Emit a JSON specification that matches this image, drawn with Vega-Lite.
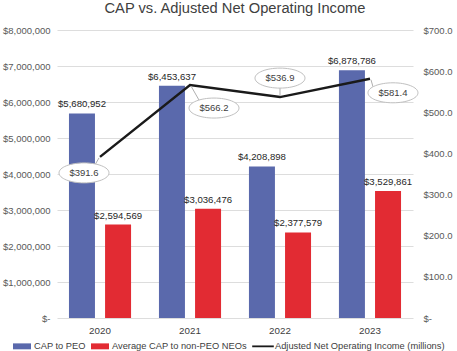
{
  "$schema": "https://vega.github.io/schema/vega-lite/v6.json",
  "width": 356,
  "height": 288,
  "autosize": {"type": "none"},
  "padding": {"left": 57, "top": 30, "right": 44, "bottom": 33},
  "background": "white",
  "title": {"text": "CAP vs. Adjusted Net Operating Income", "fontSize": 14.7, "font": "Liberation Sans", "fontWeight": "normal", "color": "#404040", "offset": 9, "anchor": "middle"},
  "config": {"font": "Liberation Sans", "view": {"stroke": null}},
  "datasets": {
    "bars": [
      {"year": "2020", "series": "CAP to PEO", "value": 5680952},
      {"year": "2020", "series": "Average CAP to non-PEO NEOs", "value": 2594569},
      {"year": "2021", "series": "CAP to PEO", "value": 6453637},
      {"year": "2021", "series": "Average CAP to non-PEO NEOs", "value": 3036476},
      {"year": "2022", "series": "CAP to PEO", "value": 4208898},
      {"year": "2022", "series": "Average CAP to non-PEO NEOs", "value": 2377579},
      {"year": "2023", "series": "CAP to PEO", "value": 6878786},
      {"year": "2023", "series": "Average CAP to non-PEO NEOs", "value": 3529861}
    ],
    "income": [
      {"year": "2020", "income": 391.6},
      {"year": "2021", "income": 566.2},
      {"year": "2022", "income": 536.9},
      {"year": "2023", "income": 581.4}
    ]
  },
  "layer": [
    {
      "data": {"name": "bars"},
      "encoding": {
        "x": {"field": "year", "type": "nominal", "title": null,
              "scale": {"paddingInner": 0.31, "paddingOuter": 0.133},
              "axis": {"labelAngle": 0, "labelFontSize": 9.8, "labelColor": "#404040", "domain": false, "ticks": false, "labelPadding": 7}},
        "y": {"field": "value", "type": "quantitative", "title": null,
              "scale": {"domain": [0, 8000000]},
              "axis": {"orient": "left", "values": [0,1000000,2000000,3000000,4000000,5000000,6000000,7000000,8000000],
                       "labelExpr": "datum.value === 0 ? '$-' : format(datum.value, '$,')",
                       "labelFontSize": 9.5, "labelColor": "#595959", "domain": false, "ticks": false, "labelPadding": 7,
                       "grid": true, "gridColor": "#DDDDDD", "gridWidth": 1}},
        "xOffset": {"field": "series", "type": "nominal", "sort": ["CAP to PEO", "Average CAP to non-PEO NEOs"],
                    "scale": {"domain": ["CAP to PEO", "Average CAP to non-PEO NEOs"], "paddingInner": 0.28}}
      },
      "layer": [
        {
          "mark": {"type": "bar"},
          "encoding": {
            "color": {"field": "series", "type": "nominal",
                      "scale": {"domain": ["CAP to PEO", "Average CAP to non-PEO NEOs", "Adjusted Net Operating Income (millions)"],
                                "range": ["#5A69AC", "#E22B33", "#1A1A1A"]},
                      "legend": {"title": null, "orient": "none", "legendX": -44, "legendY": 307, "direction": "horizontal",
                                 "symbolType": "M-1,-0.33H1V0.33H-1Z", "symbolSize": 324, "symbolStrokeWidth": 0,
                                 "symbolOpacity": 1, "labelFontSize": 9.3, "labelColor": "#404040", "labelLimit": 300,
                                 "columnPadding": 5, "labelOffset": 3,
                                 "encode": {"symbols": {"update": {"shape": {"signal": "datum.value === 'Adjusted Net Operating Income (millions)' ? 'M-1.2,-0.1H1.2V0.1H-1.2Z' : 'M-1,-0.33H1V0.33H-1Z'"}}}}}}
          }
        },
        {
          "mark": {"type": "text", "baseline": "bottom", "dy": -4, "fontSize": 9.6, "color": "#262626"},
          "encoding": {"text": {"field": "value", "type": "quantitative", "format": "$,"}}
        }
      ]
    },
    {
      "data": {"name": "income"},
      "encoding": {
        "x": {"field": "year", "type": "nominal", "title": null,
              "scale": {"paddingInner": 0.31, "paddingOuter": 0.133},
              "axis": {"labelAngle": 0, "labelFontSize": 9.8, "labelColor": "#404040", "domain": false, "ticks": false, "labelPadding": 7}},
        "y": {"field": "income", "type": "quantitative", "title": null,
              "scale": {"domain": [0, 700]},
              "axis": {"orient": "right", "values": [0,100,200,300,400,500,600,700],
                       "labelExpr": "datum.value === 0 ? '$-' : format(datum.value, '$,.1f')",
                       "labelFontSize": 9.5, "labelColor": "#595959", "domain": false, "ticks": false, "labelPadding": 10, "grid": false}}
      },
      "layer": [
        {"mark": {"type": "line", "color": "#1A1A1A", "strokeWidth": 2.5}},
        {
          "transform": [{"filter": "datum.year === '2020'"}],
          "layer": [
            {"mark": {"type": "rule", "color": "#B0B0B0", "strokeWidth": 1, "xOffset": -1, "yOffset": 1, "x2Offset": -5, "y2Offset": 8}, "encoding": {"x2": {"field": "year"}, "y2": {"field": "income"}}},
            {"mark": {"type": "point", "shape": "M-1,0A1,0.4 0 1,1 1,0A1,0.4 0 1,1 -1,0Z", "size": 2500, "filled": true, "fill": "white", "stroke": "#C0C0C0", "strokeWidth": 1, "opacity": 1, "xOffset": -16, "yOffset": 16}},
            {"mark": {"type": "text", "dx": -16, "dy": 16, "fontSize": 9.5, "color": "#404040"}, "encoding": {"text": {"field": "income", "type": "quantitative", "format": "$.1f"}}}
          ]
        },
        {
          "transform": [{"filter": "datum.year === '2021'"}],
          "layer": [
            {"mark": {"type": "rule", "color": "#B0B0B0", "strokeWidth": 1, "xOffset": 1, "yOffset": 1, "x2Offset": 9, "y2Offset": 15}, "encoding": {"x2": {"field": "year"}, "y2": {"field": "income"}}},
            {"mark": {"type": "point", "shape": "M-1,0A1,0.4 0 1,1 1,0A1,0.4 0 1,1 -1,0Z", "size": 2500, "filled": true, "fill": "white", "stroke": "#C0C0C0", "strokeWidth": 1, "opacity": 1, "xOffset": 24, "yOffset": 23}},
            {"mark": {"type": "text", "dx": 24, "dy": 23, "fontSize": 9.5, "color": "#404040"}, "encoding": {"text": {"field": "income", "type": "quantitative", "format": "$.1f"}}}
          ]
        },
        {
          "transform": [{"filter": "datum.year === '2022'"}],
          "layer": [
            {"mark": {"type": "rule", "color": "#B0B0B0", "strokeWidth": 1, "xOffset": 0, "yOffset": -1, "x2Offset": 0, "y2Offset": -9}, "encoding": {"x2": {"field": "year"}, "y2": {"field": "income"}}},
            {"mark": {"type": "point", "shape": "M-1,0A1,0.4 0 1,1 1,0A1,0.4 0 1,1 -1,0Z", "size": 2500, "filled": true, "fill": "white", "stroke": "#C0C0C0", "strokeWidth": 1, "opacity": 1, "xOffset": 0, "yOffset": -19}},
            {"mark": {"type": "text", "dx": 0, "dy": -19, "fontSize": 9.5, "color": "#404040"}, "encoding": {"text": {"field": "income", "type": "quantitative", "format": "$.1f"}}}
          ]
        },
        {
          "transform": [{"filter": "datum.year === '2023'"}],
          "layer": [
            {"mark": {"type": "rule", "color": "#B0B0B0", "strokeWidth": 1, "xOffset": 1, "yOffset": 1, "x2Offset": 3, "y2Offset": 8}, "encoding": {"x2": {"field": "year"}, "y2": {"field": "income"}}},
            {"mark": {"type": "point", "shape": "M-1,0A1,0.4 0 1,1 1,0A1,0.4 0 1,1 -1,0Z", "size": 2500, "filled": true, "fill": "white", "stroke": "#C0C0C0", "strokeWidth": 1, "opacity": 1, "xOffset": 23, "yOffset": 14}},
            {"mark": {"type": "text", "dx": 23, "dy": 14, "fontSize": 9.5, "color": "#404040"}, "encoding": {"text": {"field": "income", "type": "quantitative", "format": "$.1f"}}}
          ]
        }
      ]
    }
  ],
  "resolve": {"scale": {"y": "independent"}}
}
